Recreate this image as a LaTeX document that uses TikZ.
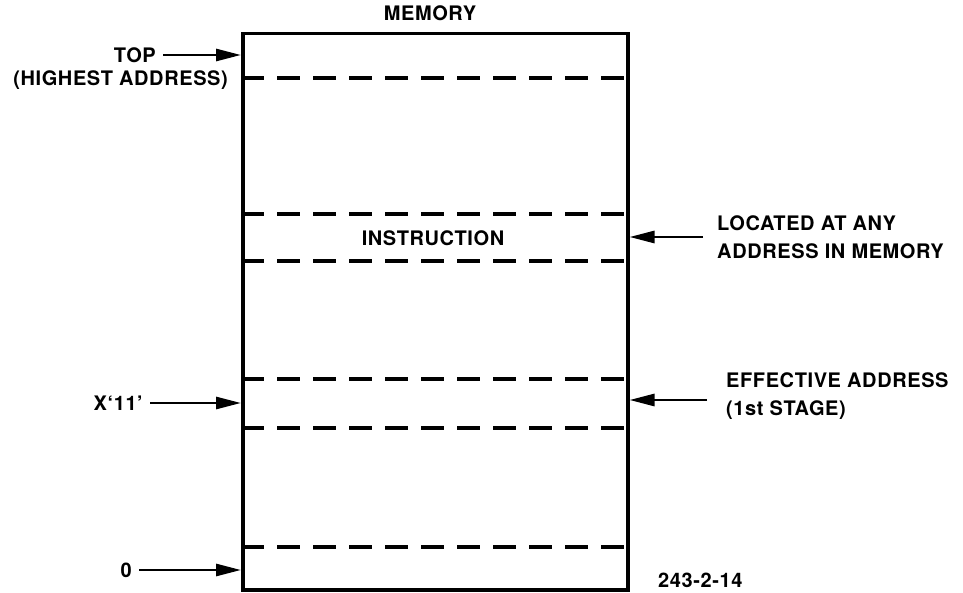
\documentclass[tikz,border=0pt]{standalone}
\usepackage{fontspec}
\setmainfont{TeX Gyre Heros}
\usetikzlibrary{arrows.meta,positioning,calc}

\begin{document}
\begin{tikzpicture}[
    x=1pt,y=-1pt,
    >={Triangle[length=25pt,width=12pt]},
    lbl/.style={
        font=\bfseries\fontsize{20}{27.5}\selectfont\addfontfeatures{LetterSpace=3},
        inner sep=0pt,
    },
    pointer/.style={->,line width=2.8pt},
    slot/.style={line width=3.4pt,dash pattern=on 23pt off 13pt},
]
    \useasboundingbox (0,0) rectangle (963,593);

    % memory block
    \node[
        draw,line width=3.5pt,
        minimum width=385pt,minimum height=556pt,
        inner sep=0pt,anchor=north west,
    ] (mem) at (241,32) {};
    \node[lbl] (memtitle) at (430,13) {MEMORY};
    \foreach \y in {78,214,261,379,428,547}{%
        \draw[slot] (mem.west |- 0,\y) -- (mem.east |- 0,\y);
    }
    \node[lbl] (instr) at (433,238) {INSTRUCTION};

    % left side
    \node[lbl,anchor=east] (top) at (156,55) {TOP};
    \node[lbl,anchor=east] (highest) at (228,80) {(HIGHEST ADDRESS)};
    \node[lbl,anchor=east] (xeleven) at (143,403) {X‘11’};
    \node[lbl,anchor=east] (zero) at (132,570) {0};
    \foreach \n in {top,xeleven,zero}{%
        \coordinate (\n in) at (mem.west |- \n);
        \draw[pointer,shorten <=7pt] (\n.east) -- (\n in);
    }

    % right side
    \node[lbl,anchor=west,align=left] (located) at (717,237)
        {LOCATED AT ANY\\ADDRESS IN MEMORY};
    \node[lbl,anchor=west,align=left] (effective) at (726,396)
        {EFFECTIVE ADDRESS\\(1st STAGE)};
    \coordinate (located in) at (mem.east |- 0,237);
    \coordinate (effective in) at (mem.east |- 0,400);
    \draw[pointer,shorten <=14pt] (located.west |- located in) -- (located in);
    \draw[pointer,shorten <=19pt] (effective.west |- effective in) -- (effective in);

    \node[lbl,anchor=west] (figno) at (658,580) {243-2-14};
\end{tikzpicture}
\end{document}
